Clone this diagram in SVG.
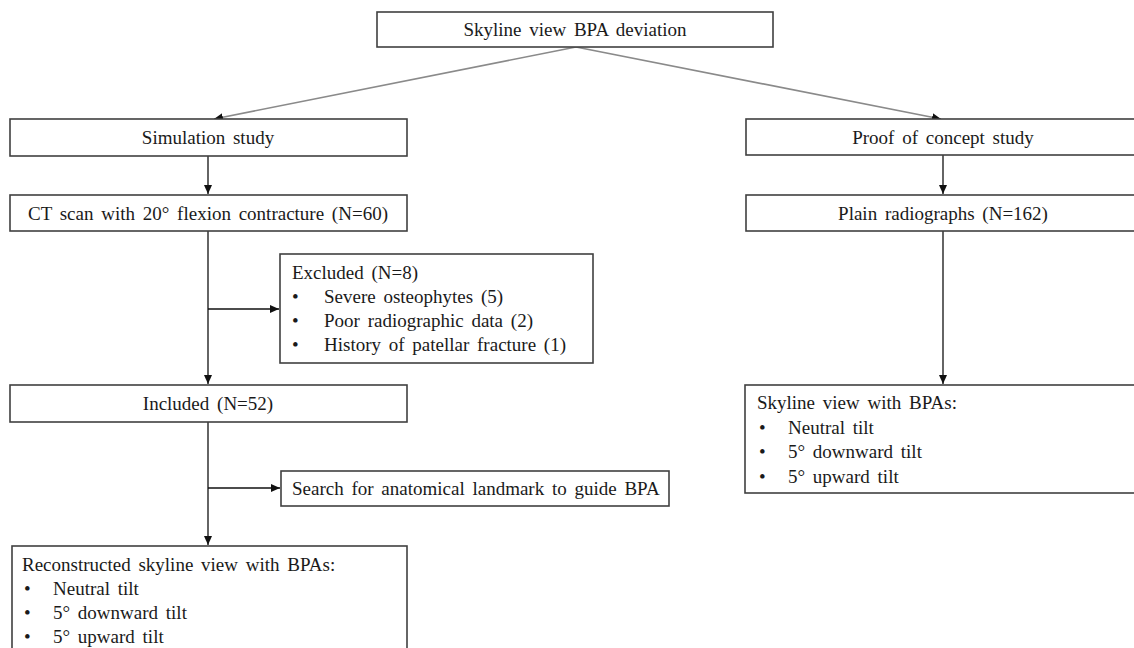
<svg xmlns="http://www.w3.org/2000/svg" width="1134" height="648" viewBox="0 0 1134 648">
<style>
.box{fill:#fff;stroke:#404040;stroke-width:1.6}
text{font-family:"Liberation Serif","Times New Roman",serif;font-size:19px;fill:#1a1a1a;word-spacing:3px}
.c{text-anchor:middle}
.ln{fill:none;stroke:#111;stroke-width:1.3}
.gl{fill:none;stroke:#8a8a8a;stroke-width:1.6}
</style>
<defs>
<marker id="ah" markerWidth="10" markerHeight="10" refX="9" refY="5" orient="auto" markerUnits="userSpaceOnUse">
<path d="M0,1 L9,5 L0,9 Z" fill="#111"/>
</marker>
</defs>
<rect width="1134" height="648" fill="#fff"/>
<g id="connectors">
<line class="gl" x1="576" y1="47" x2="214" y2="119" marker-end="url(#ah)"/>
<line class="gl" x1="576" y1="47" x2="941" y2="119" marker-end="url(#ah)"/>
<line class="ln" x1="208" y1="156" x2="208" y2="194" marker-end="url(#ah)"/>
<line class="ln" x1="208" y1="231" x2="208" y2="384" marker-end="url(#ah)"/>
<line class="ln" x1="208" y1="309" x2="279" y2="309" marker-end="url(#ah)"/>
<line class="ln" x1="208" y1="422" x2="208" y2="545" marker-end="url(#ah)"/>
<line class="ln" x1="208" y1="488" x2="280" y2="488" marker-end="url(#ah)"/>
<line class="ln" x1="943" y1="155" x2="943" y2="194" marker-end="url(#ah)"/>
<line class="ln" x1="943" y1="231" x2="943" y2="384" marker-end="url(#ah)"/>
</g>
<g id="top">
<rect class="box" x="377" y="12" width="396" height="35"/>
<text class="c" x="575" y="36">Skyline view BPA deviation</text>
</g>
<g id="sim">
<rect class="box" x="10" y="119" width="397" height="37"/>
<text class="c" x="208" y="144">Simulation study</text>
</g>
<g id="ct">
<rect class="box" x="10" y="195" width="397" height="36"/>
<text class="c" x="208" y="220">CT scan with 20° flexion contracture (N=60)</text>
</g>
<g id="excluded">
<rect class="box" x="280" y="254" width="313" height="109"/>
<text x="292" y="279">Excluded (N=8)</text>
<text x="292" y="303">•</text><text x="324" y="303">Severe osteophytes (5)</text>
<text x="292" y="327">•</text><text x="324" y="327">Poor radiographic data (2)</text>
<text x="292" y="351">•</text><text x="324" y="351">History of patellar fracture (1)</text>
</g>
<g id="included">
<rect class="box" x="10" y="385" width="397" height="37"/>
<text class="c" x="208" y="410">Included (N=52)</text>
</g>
<g id="search">
<rect class="box" x="281" y="471" width="388" height="35"/>
<text x="292" y="495">Search for anatomical landmark to guide BPA</text>
</g>
<g id="reconstructed">
<rect class="box" x="12" y="546" width="395" height="110"/>
<text x="22" y="571">Reconstructed skyline view with BPAs:</text>
<text x="24" y="595">•</text><text x="53" y="595">Neutral tilt</text>
<text x="24" y="619">•</text><text x="53" y="619">5° downward tilt</text>
<text x="24" y="643">•</text><text x="53" y="643">5° upward tilt</text>
</g>
<g id="proof">
<rect class="box" x="746" y="119" width="394" height="36"/>
<text class="c" x="943" y="144">Proof of concept study</text>
</g>
<g id="plain">
<rect class="box" x="746" y="195" width="394" height="36"/>
<text class="c" x="943" y="220">Plain radiographs (N=162)</text>
</g>
<g id="skyline">
<rect class="box" x="745" y="385" width="395" height="108"/>
<text x="757" y="409">Skyline view with BPAs:</text>
<text x="759" y="434">•</text><text x="788" y="434">Neutral tilt</text>
<text x="759" y="458">•</text><text x="788" y="458">5° downward tilt</text>
<text x="759" y="483">•</text><text x="788" y="483">5° upward tilt</text>
</g>
</svg>
